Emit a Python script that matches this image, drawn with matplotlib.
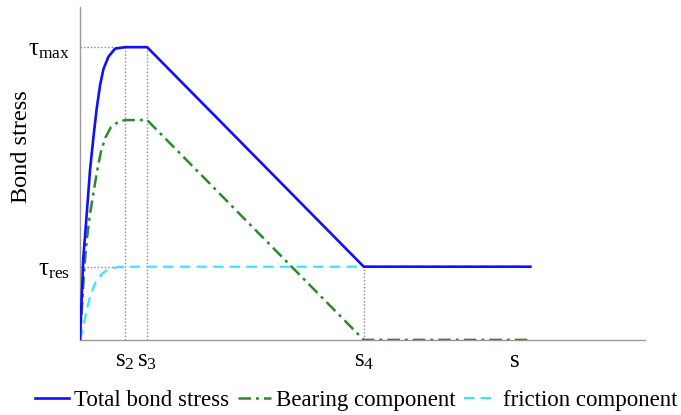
import matplotlib
matplotlib.use("Agg")
import matplotlib.pyplot as plt

plt.rcParams["font.family"] = ["Liberation Serif", "DejaVu Serif"]
plt.rcParams["mathtext.fontset"] = "custom"
plt.rcParams["mathtext.rm"] = "Liberation Serif"
plt.rcParams["mathtext.it"] = "Liberation Serif"

# characteristic slips and stresses (normalised, tau_max = 1)
s2, s3, s4, s_end = 1.0, 1.49, 6.3, 10.0
tau_max, tau_res, tau_bear = 1.0, 0.25, 0.751

# total bond stress
total_s = [0, 0.073, 0.149, 0.222, 0.296, 0.37, 0.445, 0.52, 0.63, 0.778, s2, s3, s4, s_end]
total_t = [0, 0.28, 0.43, 0.58, 0.69, 0.79, 0.87, 0.925, 0.967, 0.995, tau_max, tau_max,
           tau_res, tau_res]

# bearing component
bear_s = [0, 0.073, 0.111, 0.149, 0.222, 0.371, 0.46, 0.56, 0.68, 0.85, s2, s3, s4, s_end]
bear_t = [0, 0.19, 0.273, 0.34, 0.43, 0.57, 0.64, 0.69, 0.725, 0.745, tau_bear, tau_bear, 0, 0]

# friction component
fric_s = [0, 0.073, 0.149, 0.222, 0.333, 0.482, 0.63, 0.85, s2, s_end]
fric_t = [0, 0.045, 0.102, 0.148, 0.193, 0.225, 0.242, 0.249, tau_res, tau_res]

xticks = [s2, s3, s4, 9.65]
xlabels = [r"$\mathrm{s}_2$", r"$\mathrm{s}_3$", r"$\mathrm{s}_4$", "s"]
yticks = [tau_res, tau_max]
ylabels = [r"$\mathrm{\tau}_{\mathrm{res}}$", r"$\mathrm{\tau}_{\mathrm{max}}$"]

fig = plt.figure(figsize=(6.81, 4.15), dpi=100)
ax = fig.add_axes([0.1175, 0.181, 0.83, 0.802])

ax.plot(total_s, total_t, color="#1010ff", lw=1.9, label="Total bond stress", zorder=4)
ax.plot(bear_s, bear_t, color="#2a8a2a", lw=1.8, ls=(0, (5, 2, 1.2, 2)),
        label="Bearing component", zorder=3)
ax.plot(fric_s, fric_t, color="#2ee6ff", lw=1.5, ls=(0, (5, 3)),
        label="friction component", zorder=3)

# dotted guides
gk = dict(color="#888888", lw=1.0, ls=(0, (1, 1.5)), zorder=1)
ax.plot([0, s2], [tau_max, tau_max], **gk)
ax.plot([0, s2], [tau_res, tau_res], **gk)
ax.plot([s2, s2], [0, tau_max], **gk)
ax.plot([s3, s3], [0, tau_max], **gk)
ax.plot([s4, s4], [0, tau_res], **gk)

ax.set_xlim(0, 12.55)
ax.set_ylim(0, 1.137)
ax.set_xticks(xticks)
ax.set_xticklabels(xlabels, fontsize=18)
ax.set_yticks(yticks)
ax.set_yticklabels(ylabels, fontsize=18)
ax.tick_params(length=0, pad=7)
ax.set_ylabel("Bond stress", fontsize=17.5)
ax.yaxis.set_label_coords(-0.085, 0.581)

for side in ("top", "right"):
    ax.spines[side].set_visible(False)
for side in ("left", "bottom"):
    ax.spines[side].set_color("#999999")
    ax.spines[side].set_linewidth(1.0)

fig.legend(loc="center", bbox_to_anchor=(0.5235, 0.036), ncol=3, frameon=False,
           fontsize=16.5, handlelength=1.45, handletextpad=0.25, columnspacing=0.35)

fig.savefig("out.png", dpi=100)
